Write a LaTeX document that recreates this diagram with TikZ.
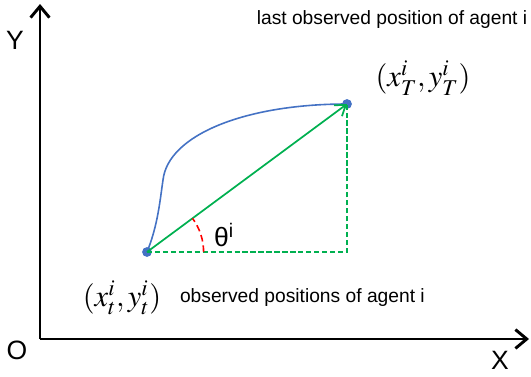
\documentclass[tikz,border=0pt]{standalone}
\usepackage{mathptmx}
\usepackage{fontspec}
\setmainfont{Liberation Sans}
\usepackage{tikz}
\usetikzlibrary{positioning,arrows.meta}
\definecolor{pathblue}{HTML}{4472C4}
\definecolor{dispgreen}{HTML}{00B050}

\begin{document}
\begin{tikzpicture}[x=0.0265cm,y=-0.0265cm,
  axis/.style={line width=2.2pt,-{Straight Barb[length=3mm,width=5mm]}},
  agentdot/.style={circle,fill=pathblue,inner sep=0pt,minimum size=0.26cm},
  axlbl/.style={font=\fontsize{20}{24}\selectfont},
  note/.style={font=\fontsize{14.5}{17}\selectfont},
  poslbl/.style={font=\fontsize{23}{27}\selectfont}]
\useasboundingbox (0,0) rectangle (531,376);
% axes
\coordinate (O) at (40,339);
\coordinate (xend) at (529,339);
\coordinate (yend) at (40,4);
\draw[axis] (O) -- (xend);
\draw[axis] (O.center) -- (yend);
\node[axlbl] (olbl) at (17,350) {O};
\node[axlbl] (xlbl) at (500,360) {X};
\node[axlbl] (ylbl) at (15,40) {Y};
% positions
\node[agentdot] (start) at (147,252) {};
\node[agentdot] (last) at (347,104) {};
\coordinate (corner) at (347,252);
\draw[pathblue,line width=1.2pt] (start.center) .. controls (158,225) and (160,200) .. (163,180)
  .. controls (168,135) and (245,104) .. (last.center);
\draw[dispgreen,line width=1.2pt,dash pattern=on 4pt off 2pt] (start.center) -- (corner) -- (last.center);
\draw[dispgreen,line width=1.3pt,-{Straight Barb[length=2.6mm,width=3.6mm]}] (start.center) -- (last.center);
\draw[red,line width=1.2pt,dash pattern=on 5pt off 3pt] (start.center) ++(0:1.5cm) arc[start angle=0,end angle=36.5,radius=1.5cm];
\node[font=\fontsize{20}{24}\selectfont] (theta) at (224,235) {θ\textsuperscript{i}};
% labels
\node[note] (lastobslbl) at (392,20) {last observed position of agent i};
\node[poslbl] (lastlbl) at (423,78) {$(x_T^i,y_T^i)$};
\node[poslbl] (startlbl) at (122,298) {$(x_t^i,y_t^i)$};
\node[note,right=0.25cm of startlbl] (obslbl) {observed positions of agent i};
\end{tikzpicture}
\end{document}
